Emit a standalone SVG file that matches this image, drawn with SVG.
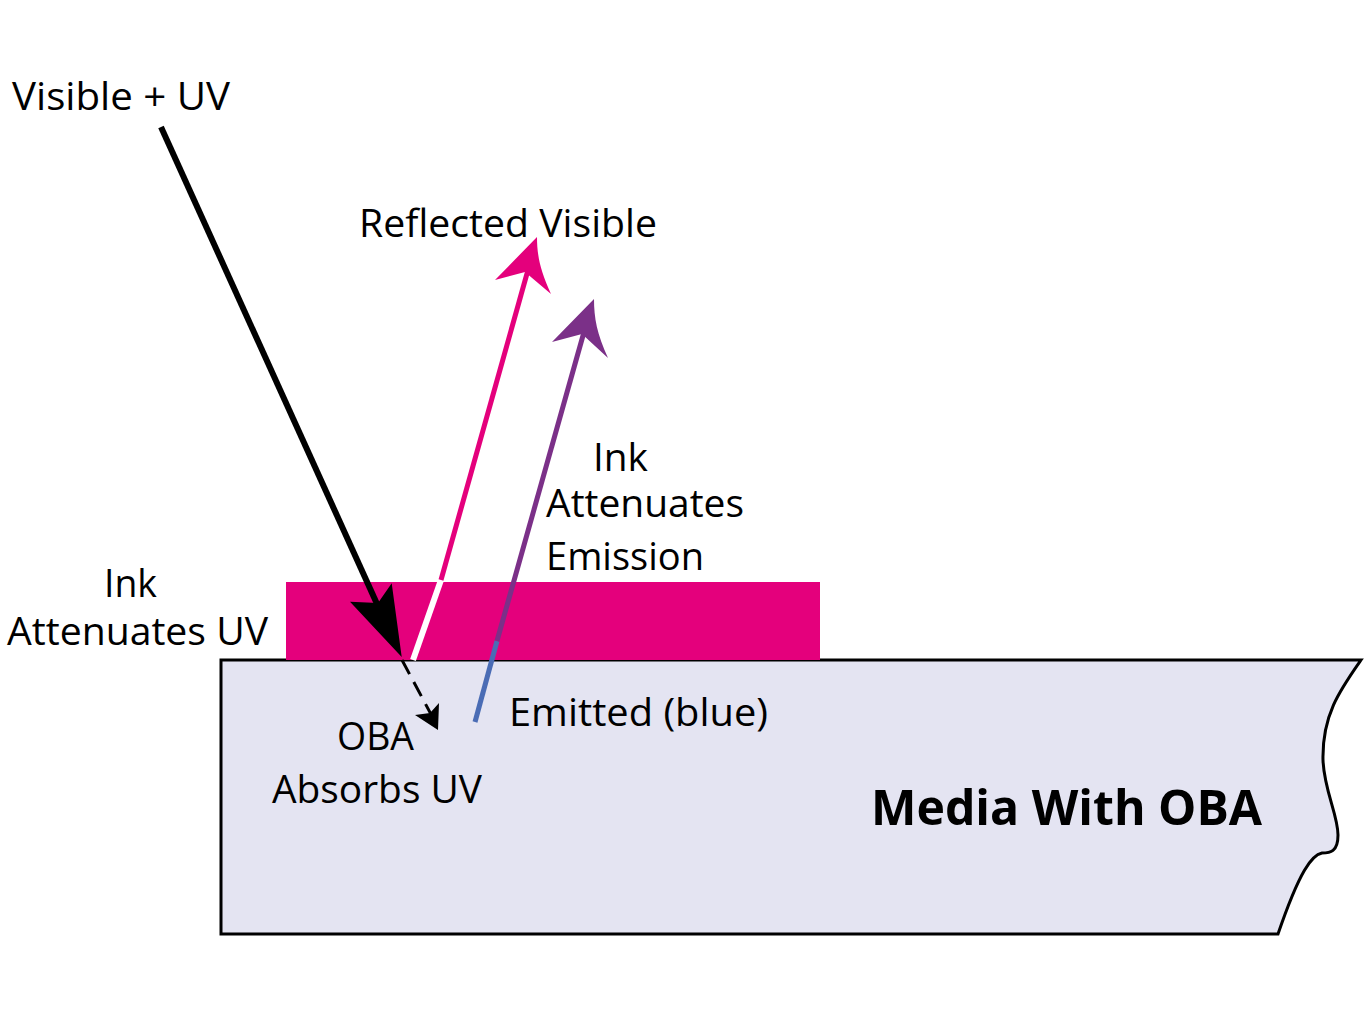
<svg xmlns="http://www.w3.org/2000/svg" width="1370" height="1027" viewBox="0 0 1370 1027">
<style>
text{font-family:"Open Sans","Noto Sans","Liberation Sans",sans-serif;font-size:38px;fill:#000}
.b{font-weight:bold;font-size:48px}
</style>
<rect width="1370" height="1027" fill="#fff"/>
<g id="media">
<path d="M221,660 L1361,660 C1340,690 1322,715 1323,760 C1324,790 1338,815 1338,835 C1338,852 1330,853 1322,853 C1312,855 1300,870 1278,934 L221,934 Z" fill="#E4E4F2" stroke="#000" stroke-width="3"/>
<text class="b" x="871" y="825" textLength="391" lengthAdjust="spacingAndGlyphs">Media With OBA</text>
</g>
<g id="ink">
<rect x="286" y="582" width="534" height="78" fill="#E4007C"/>
</g>
<g id="connectors">
<line x1="161" y1="127" x2="392" y2="637" stroke="#000" stroke-width="6"/>
<path d="M401.7,657 L350,601.7 L378,603 L391.7,583.3 Z" fill="#000"/>
<line x1="402" y1="660" x2="433" y2="718" stroke="#000" stroke-width="3" stroke-dasharray="16,9"/>
<path d="M438,730 L415,715 L430,713 L439,703 Z" fill="#000"/>
<line x1="413" y1="660" x2="441" y2="580" stroke="#fff" stroke-width="6"/>
<line x1="441" y1="580" x2="528" y2="270" stroke="#E4007C" stroke-width="5"/>
<path d="M537,237 L495,280 L525,272 L551,294 C540,270 537,255 537,237 Z" fill="#E4007C"/>
<line x1="475" y1="722" x2="497" y2="641" stroke="#4A6CB5" stroke-width="5"/>
<line x1="497" y1="641" x2="584" y2="332" stroke="#7B3088" stroke-width="5"/>
<path d="M594,299 L552,342 L582,334 L608,358 C597,334 594,318 594,299 Z" fill="#7B3088"/>
</g>
<g id="labels">
<text x="12" y="110" textLength="218" lengthAdjust="spacingAndGlyphs">Visible + UV</text>
<text x="359" y="237" textLength="298" lengthAdjust="spacingAndGlyphs">Reflected Visible</text>
<text x="593" y="471" textLength="55" lengthAdjust="spacingAndGlyphs">Ink</text>
<text x="546" y="517" textLength="198" lengthAdjust="spacingAndGlyphs">Attenuates</text>
<text x="546" y="570" textLength="158" lengthAdjust="spacingAndGlyphs">Emission</text>
<text x="104" y="597" textLength="53" lengthAdjust="spacingAndGlyphs">Ink</text>
<text x="7" y="645" textLength="261" lengthAdjust="spacingAndGlyphs">Attenuates UV</text>
<text x="337" y="750" textLength="77" lengthAdjust="spacingAndGlyphs">OBA</text>
<text x="272" y="803" textLength="210" lengthAdjust="spacingAndGlyphs">Absorbs UV</text>
<text x="509" y="726" textLength="259" lengthAdjust="spacingAndGlyphs">Emitted (blue)</text>
</g>
</svg>
